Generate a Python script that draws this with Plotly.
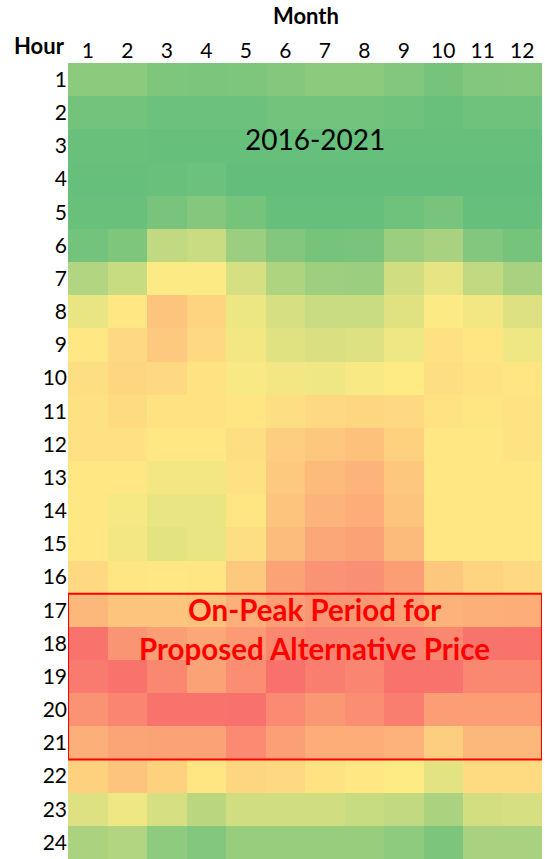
import plotly.graph_objects as go

months = [1, 2, 3, 4, 5, 6, 7, 8, 9, 10, 11, 12]
hours = list(range(1, 25))

# Relative price index per hour (rows) and month (columns), 0 = lowest, 100 = highest
price_index = [
    [13, 13, 9, 8, 9, 11, 13, 13, 10, 6, 10, 11],        # 1
    [5, 5, 3, 3, 3, 5, 5, 5, 4, 2, 4, 4],                # 2
    [2, 2, 1, 1, 1, 1, 1, 1, 1, 1, 1, 1],                # 3
    [1, 1, 2, 3, 0, 0, 0, 0, 0, 0, 0, 0],                # 4
    [2, 2, 7, 11, 6, 1, 1, 1, 4, 7, 1, 1],               # 5
    [5, 9, 30, 33, 18, 10, 6, 7, 18, 22, 10, 6],         # 6
    [25, 32, 49, 49, 37, 24, 19, 18, 35, 42, 30, 22],    # 7
    [43, 51, 65, 59, 44, 37, 33, 33, 40, 49, 46, 39],    # 8
    [51, 57, 63, 57, 46, 40, 38, 39, 45, 54, 52, 45],    # 9
    [55, 58, 57, 53, 48, 46, 45, 48, 50, 55, 53, 52],    # 10
    [54, 56, 53, 53, 52, 55, 57, 58, 57, 53, 52, 53],    # 11
    [54, 54, 51, 51, 55, 61, 64, 66, 60, 51, 51, 53],    # 12
    [51, 51, 46, 46, 54, 63, 69, 71, 64, 51, 51, 51],    # 13
    [51, 47, 43, 43, 52, 65, 71, 74, 65, 51, 51, 51],    # 14
    [51, 46, 41, 43, 55, 68, 76, 78, 69, 51, 51, 51],    # 15
    [57, 52, 51, 52, 63, 78, 84, 85, 80, 64, 59, 57],    # 16
    [70, 65, 65, 66, 73, 80, 83, 82, 79, 72, 73, 74],    # 17
    [96, 83, 80, 76, 81, 88, 90, 90, 90, 88, 96, 96],    # 18
    [93, 96, 88, 78, 86, 97, 92, 89, 96, 96, 88, 88],    # 19
    [84, 89, 96, 96, 97, 87, 82, 86, 92, 80, 80, 80],    # 20
    [73, 77, 78, 78, 87, 79, 74, 74, 72, 61, 70, 70],    # 21
    [60, 65, 60, 52, 58, 57, 53, 51, 50, 41, 56, 56],    # 22
    [39, 45, 37, 28, 35, 35, 35, 32, 30, 23, 36, 37],    # 23
    [23, 25, 14, 10, 17, 17, 17, 17, 14, 8, 22, 22],     # 24
]

FONT = "Lato"

fig = go.Figure(
    go.Heatmap(
        z=price_index,
        x=months,
        y=hours,
        zmin=0,
        zmax=100,
        colorscale=[[0, "#63BE7B"], [0.5, "#FFEB84"], [1, "#F8696B"]],
        showscale=False,
        hoverinfo="skip",
    )
)

fig.update_layout(
    width=545,
    height=859,
    margin=dict(l=68, r=3, t=63, b=0),
    paper_bgcolor="white",
    plot_bgcolor="white",
    font=dict(family=FONT, size=21, color="black"),
)

fig.update_xaxes(
    side="top",
    tickmode="array",
    tickvals=months,
    ticktext=[str(m) for m in months],
    showgrid=False,
    zeroline=False,
    ticks="",
    range=[0.5, 12.5],
    tickfont=dict(size=21),
)
fig.update_yaxes(
    tickmode="array",
    tickvals=hours,
    ticktext=[str(h) for h in hours],
    autorange=False,
    range=[24.5, 0.5],
    showgrid=False,
    zeroline=False,
    ticks="",
    tickfont=dict(size=21),
    ticklabelstandoff=0,
)

# Red on-peak box (hours 17-21)
fig.add_shape(
    type="rect", xref="x", yref="y",
    x0=0.5, x1=12.5, y0=16.5, y1=21.5,
    line=dict(color="#FF0000", width=2),
    fillcolor="rgba(0,0,0,0)",
)

fig.add_annotation(x=6.75, y=2.8, xref="x", yref="y", text="2016-2021",
                   showarrow=False, font=dict(family=FONT, size=28, color="black"))
fig.add_annotation(x=6.75, y=16.99, xref="x", yref="y", text="<b>On-Peak Period for</b>",
                   showarrow=False, font=dict(family=FONT, size=29.5, color="#FF0000"))
fig.add_annotation(x=6.75, y=18.14, xref="x", yref="y", text="<b>Proposed Alternative Price</b>",
                   showarrow=False, font=dict(family=FONT, size=29.5, color="#FF0000"))

fig.add_annotation(x=(306 - 68) / 474, y=1.0, xref="paper", yref="paper", yanchor="bottom",
                   yshift=32, text="<b>Month</b>", showarrow=False,
                   font=dict(family=FONT, size=22))
fig.add_annotation(x=0, xanchor="right", xshift=-1, y=1.0, yanchor="bottom", yshift=2,
                   xref="paper", yref="paper", text="<b>Hour</b>",
                   showarrow=False, font=dict(family=FONT, size=22))

fig.write_html(
    "out.html",
    config={"displayModeBar": False},
    post_script="document.body.style.margin='0px';document.body.style.overflow='hidden';"
                "document.documentElement.style.overflow='hidden';",
)
